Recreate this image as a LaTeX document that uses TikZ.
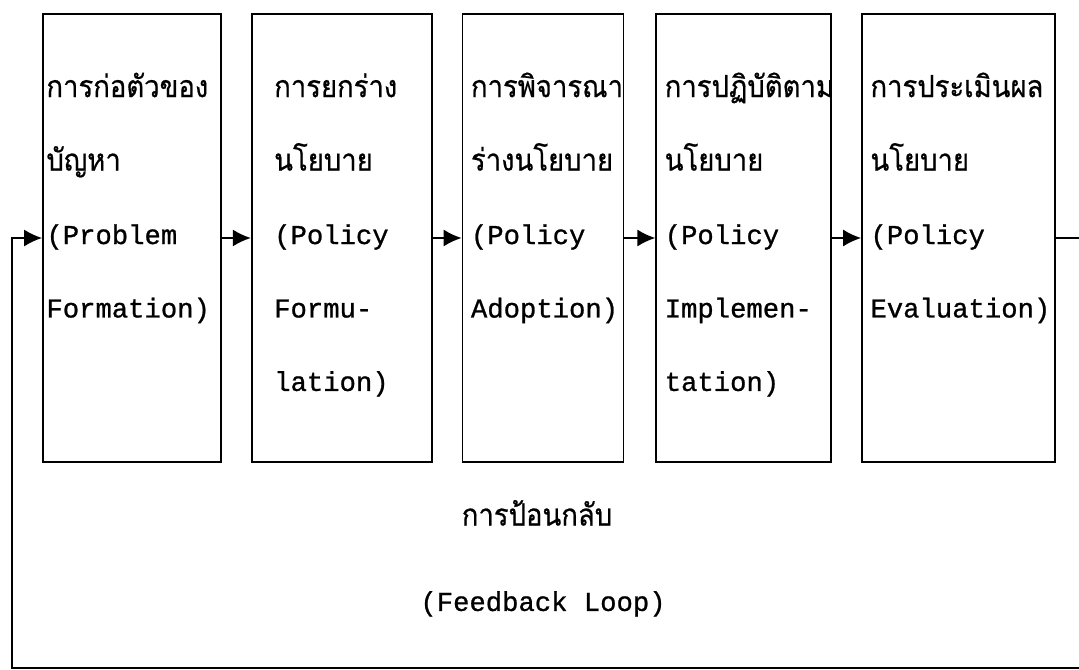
\documentclass[tikz,border=0pt]{standalone}
\usepackage{fontspec}
\setmainfont[FakeBold=0.9]{Liberation Mono}
\newfontfamily\thaifont[Script=Thai,Scale=1.12,FakeStretch=0.9,FakeBold=0.6]{Loma}
\newcommand{\thaitext}[1]{{\thaifont #1}}
\usetikzlibrary{shapes,arrows.meta,positioning}
\tikzstyle{block} = [rectangle, draw, line width=1pt, minimum height=8.96cm]
\tikzstyle{caption} = [text width=3.6cm, align=left, anchor=base west, inner sep=0pt,
    font=\fontsize{15.5}{41.8}\selectfont]
\tikzstyle{feedback} = [inner sep=0pt, font=\fontsize{15.5}{18}\selectfont]
\tikzstyle{line} = [draw, line width=1pt, -{Latex[length=0.36cm,width=0.34cm]}]

\begin{document}
\begin{tikzpicture}[node distance=0.58cm]
	\useasboundingbox (0,0) rectangle (21.58,-13.4);

		% the five stages
		\node [block, minimum width=3.56cm] (formation) at (2.64,-4.76) {};
		\node [block, minimum width=3.6cm, right=of formation] (formulation) {};
		\node [block, minimum width=3.22cm, right=of formulation] (adoption) {};
		\node [block, minimum width=3.5cm, right=0.62cm of adoption] (implementation) {};
		\node [block, minimum width=3.86cm, right=of implementation] (evaluation) {};

		\node [caption] at ([shift={(0.08,-1.68)}]formation.north west) {\thaitext{การก่อตัวของ}\\\thaitext{บัญหา}\\(Problem\\Formation)};
		\node [caption] at ([shift={(0.46,-1.68)}]formulation.north west) {\thaitext{การยกร่าง}\\\thaitext{นโยบาย}\\(Policy\\Formu-\\lation)};
		\node [caption] at ([shift={(0.18,-1.68)}]adoption.north west) {\thaitext{การพิจารณา}\\\thaitext{ร่างนโยบาย}\\(Policy\\Adoption)};
		\node [caption] at ([shift={(0.18,-1.68)}]implementation.north west) {\thaitext{การปฏิบัติตาม}\\\thaitext{นโยบาย}\\(Policy\\Implemen-\\tation)};
		\node [caption] at ([shift={(0.18,-1.68)}]evaluation.north west) {\thaitext{การประเมินผล}\\\thaitext{นโยบาย}\\(Policy\\Evaluation)};

		\path [line] (formation) -- (formulation);
		\path [line] (formulation) -- (adoption);
		\path [line] (adoption) -- (implementation);
		\path [line] (implementation) -- (evaluation);

		% feedback back to the first stage
		\coordinate (back) at (22.2,-13.36);
		\coordinate (return) at (0.24,-13.36);
		\path [line] (evaluation.east) -| (back) -- (return) |- (formation.west);

		\node [feedback] (loopth) at ([shift={(-0.12,-1)}]adoption.south) {\thaitext{การป้อนกลับ}};
		\node [feedback] (looplabel) at ([yshift=-2.82cm]adoption.south) {(Feedback Loop)};
	\end{tikzpicture}
\end{document}
